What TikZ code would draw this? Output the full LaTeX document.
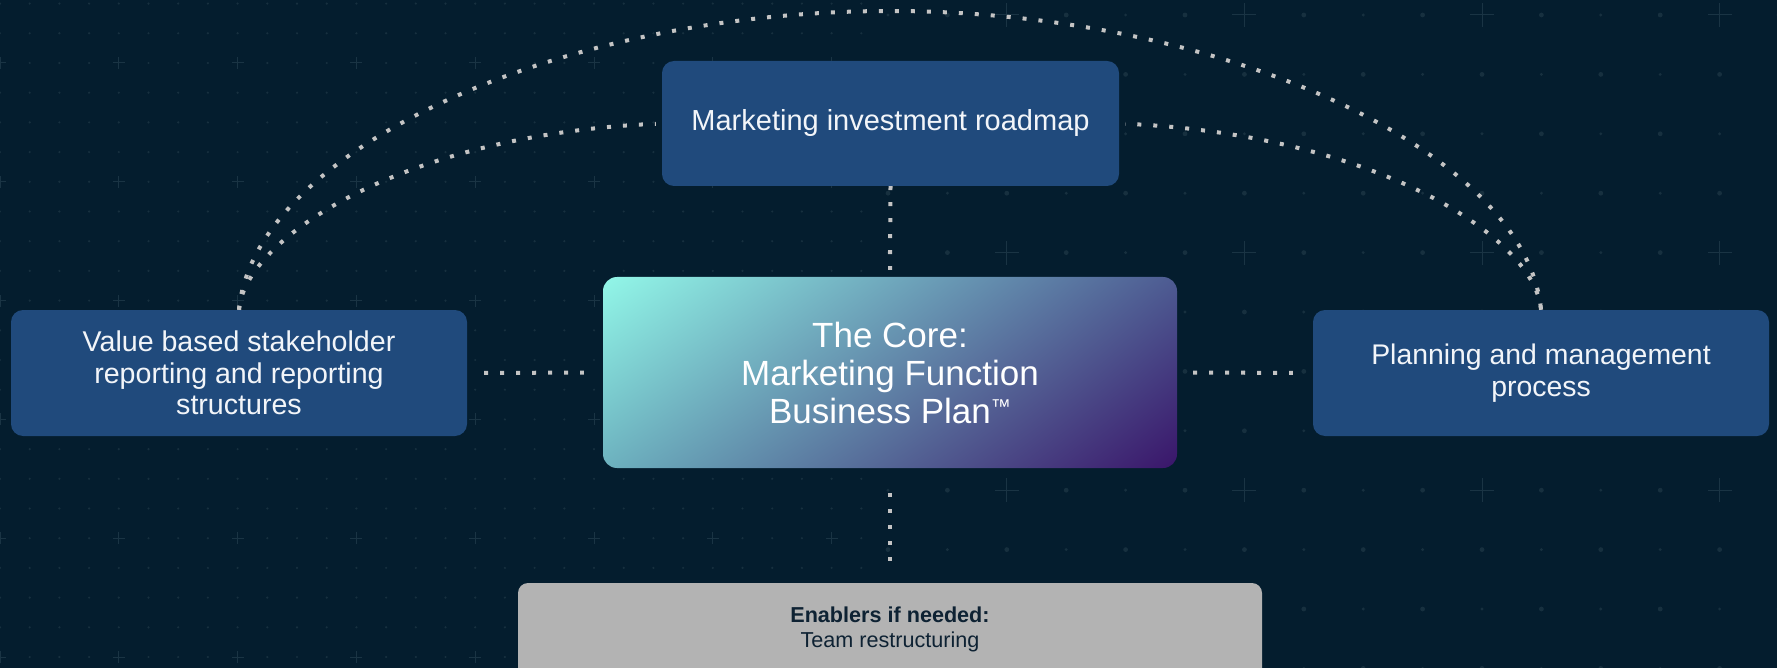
\documentclass[tikz,border=0pt]{standalone}
\usepackage{fontspec}
\setmainfont{Liberation Sans}
\usetikzlibrary{shadings}
\definecolor{bg}{HTML}{041D2E}
\definecolor{boxblue}{HTML}{204A7C}
\definecolor{dotline}{HTML}{C4C4C4}
\definecolor{gridc}{HTML}{17303F}
\definecolor{gridp}{HTML}{1A3444}
\definecolor{enabler}{HTML}{B3B3B3}
\definecolor{enablertext}{HTML}{0E2233}
\definecolor{boxtext}{HTML}{F2F5F9}
\definecolor{gUL}{HTML}{92F7E8}
\definecolor{gUR}{HTML}{4D5B92}
\definecolor{gLL}{HTML}{6DB2BF}
\definecolor{gLR}{HTML}{3A156A}
\begin{document}
\begin{tikzpicture}[x=1pt,y=-1pt,
  bluebox/.style={rectangle, rounded corners=12pt, fill=boxblue, text=boxtext,
    align=center, inner sep=0pt, minimum width=456pt, minimum height=126pt},
  corebox/.style={rectangle, rounded corners=14pt, shade,
    upper left=gUL, upper right=gUR, lower left=gLL, lower right=gLR,
    text=white, align=center, inner sep=0pt, minimum width=574pt, minimum height=191pt},
  greybox/.style={rectangle, rounded corners=10pt, fill=enabler, inner sep=0pt,
    minimum width=744pt, minimum height=117pt},
  conn/.style={draw=dotline, line width=4pt, dash pattern=on 4pt off 12pt},
  gridplus/.style={draw=gridp, line width=1pt},
]
\useasboundingbox (0,0) rectangle (1777,668);
\clip (0,0) rectangle (1777,668);
\fill[bg] (0,0) rectangle (1777,668);

% fine background grid (left part)
\foreach \i in {0,...,29}{
  \foreach \j in {0,...,22}{
    \pgfmathtruncatemacro{\pp}{(mod(\i,4)==0)&&(mod(\j,4)==2)}
    \ifnum\pp=1
      \draw[gridplus] (29.7*\i-6, 3.6+29.7*\j) -- ++(12,0)
                      (29.7*\i, 3.6+29.7*\j-6) -- ++(0,12);
    \else
      \fill[gridc] (29.7*\i, 3.6+29.7*\j) circle[radius=1.2pt];
    \fi
  }
}
% coarse background grid (right part)
\foreach \i in {0,...,15}{
  \foreach \j in {0,...,11}{
    \pgfmathtruncatemacro{\pp}{(mod(\i,4)==2)&&(mod(\j,4)==0)}
    \pgfmathtruncatemacro{\bb}{mod(\i+\j,2)}
    \ifnum\pp=1
      \draw[gridplus] (888+59.4*\i-12, 15+59.4*\j) -- ++(24,0)
                      (888+59.4*\i, 15+59.4*\j-12) -- ++(0,24);
    \else
      \ifnum\bb=1
        \fill[gridc] (888+59.4*\i, 15+59.4*\j) circle[radius=2.4pt];
      \else
        \fill[gridc] (888+59.4*\i, 15+59.4*\j) circle[radius=1.6pt];
      \fi
    \fi
  }
}

% boxes
\node[bluebox, minimum width=457pt, minimum height=125pt,
      font=\fontsize{29}{34}\selectfont] (T) at (890.5,123.5) {Marketing investment roadmap};
\node[corebox, font=\fontsize{35}{38}\selectfont] (C) at (890,372.5)
      {The Core:\\Marketing Function\\Business Plan\raisebox{10pt}{\fontsize{20}{20}\selectfont ™}};
\node[bluebox, font=\fontsize{28.6}{31.6}\selectfont] (L) at (239,373)
      {Value based stakeholder\\reporting and reporting\\structures};
\node[bluebox, font=\fontsize{28.4}{31.6}\selectfont] (R) at (1541,373)
      {Planning and management\\process};
\node[greybox] (B) at (890,641.5) {};
\node[text=enablertext, align=center, inner sep=0pt,
      font=\fontsize{21.6}{25}\selectfont] (BL) at (890,629)
      {\textbf{Enablers if needed:}\\Team restructuring};

\coordinate (apex) at (890,11);

% straight connectors
\draw[conn, shorten >=7pt] (T.south) -- (C.north);
\draw[conn, shorten <=25pt, shorten >=22pt] (C.south) -- (B.north);
\draw[conn, shorten <=17pt, shorten >=19pt] (L.east) -- (C.west);
\draw[conn, shorten <=16pt, shorten >=20pt] (C.east) -- (R.west);

% curved connectors
\draw[conn] (L.north) .. controls (254,150) and (560,11) .. (apex)
                      .. controls (1220,11) and (1526,150) .. (R.north);
\draw[conn, shorten >=6pt] (L.north) .. controls (244,240) and (400,135) .. (T.west);
\draw[conn, shorten >=6pt] (R.north) .. controls (1536,240) and (1381,135) .. (T.east);
\end{tikzpicture}
\end{document}
